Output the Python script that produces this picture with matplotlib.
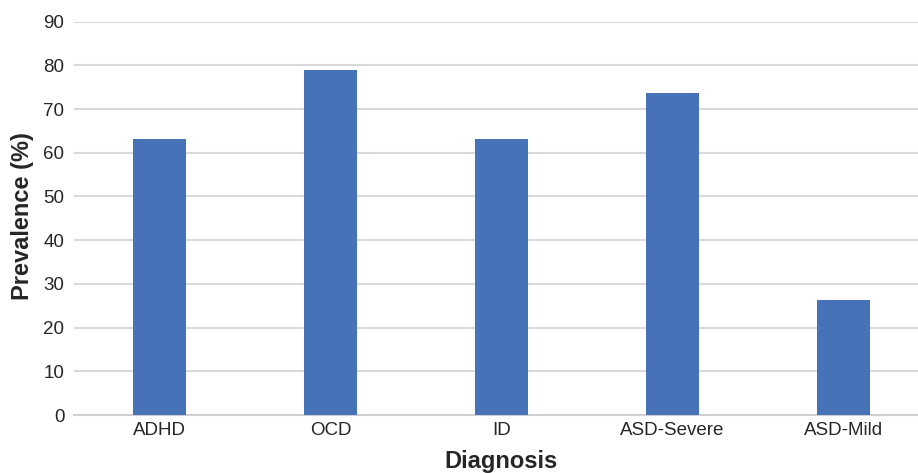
import matplotlib.pyplot as plt
import numpy as np

plt.rcParams['font.family'] = ['Liberation Sans', 'DejaVu Sans']

diagnoses = ['ADHD', 'OCD', 'ID', 'ASD-Severe', 'ASD-Mild']
prevalence = [63.2, 78.9, 63.2, 73.7, 26.3]
y_ticks = [0, 10, 20, 30, 40, 50, 60, 70, 80, 90]

W, H = 918, 473
fig = plt.figure(figsize=(W / 100, H / 100), dpi=100)
ax = fig.add_axes([74 / W, (H - 415) / H, 855 / W, 393.3 / H])

x = np.arange(len(diagnoses))
ax.bar(x, prevalence, width=0.313, color='#4672B8', zorder=3)

ax.set_xlim(-0.5, len(diagnoses) - 0.5)
ax.set_ylim(0, 90)
ax.set_yticks(y_ticks)
ax.set_xticks(x)
ax.set_xticklabels(diagnoses)
ax.yaxis.grid(True, color='#d9d9d9', linewidth=1.5, zorder=0)
ax.tick_params(axis='both', length=0, labelsize=13.5, colors='#262626')
ax.tick_params(axis='x', pad=5)
ax.tick_params(axis='y', pad=7)
for s in ['top', 'right', 'left']:
    ax.spines[s].set_visible(False)
ax.spines['bottom'].set_color('#d0d0d0')
ax.spines['bottom'].set_linewidth(1.5)

ax.set_xlabel('Diagnosis', fontsize=17, fontweight='bold', color='#262626')
ax.xaxis.label.set_va('center')
ax.xaxis.set_label_coords(0.499, -0.1195)
ax.set_ylabel('Prevalence (%)', fontsize=17, fontweight='bold', color='#262626')
ax.yaxis.label.set_va('center')
ax.yaxis.set_label_coords(-0.0608, 0.506)

fig.savefig('out.png', dpi=100)
